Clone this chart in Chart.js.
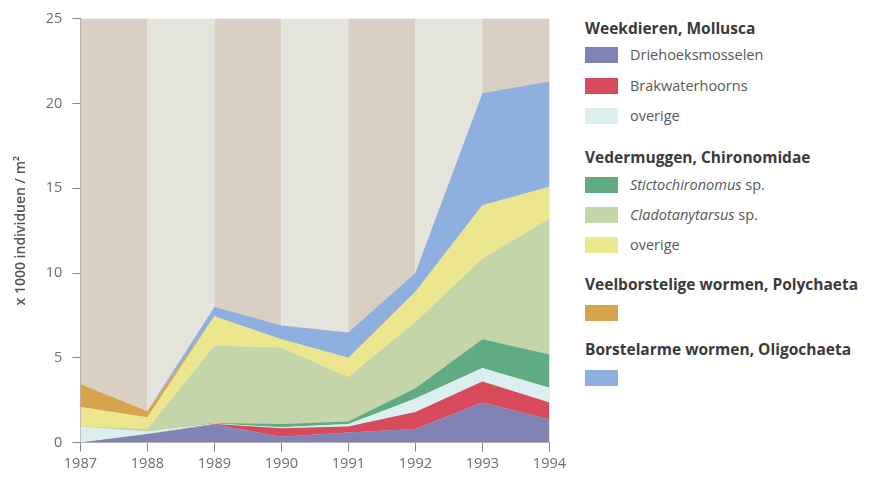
<!DOCTYPE html>
<html>
<head>
<meta charset="utf-8">
<script src="https://cdn.jsdelivr.net/npm/chart.js@4.4.0/dist/chart.umd.min.js"></script>
<style>
body{margin:0;background:#fff;font-family:"Open Sans",sans-serif;}
#wrap{position:relative;width:886px;height:477px;overflow:hidden;}
#box{position:absolute;left:0;top:0;width:570px;height:477px;}
#legend{position:absolute;left:585px;top:0;width:300px;height:477px;}
.hd{position:absolute;left:0;white-space:nowrap;font-weight:700;font-size:15.5px;color:#3a3a3a;line-height:18px;}
.sw{position:absolute;left:0;width:33px;height:16px;}
.lb{position:absolute;left:45px;white-space:nowrap;font-size:14.5px;color:#585858;line-height:18px;}
</style>
</head>
<body>
<div id="wrap">
  <div id="box"><canvas id="myChart"></canvas></div>
  <div id="legend"></div>
</div>
<script>
// jaren
let years = ['1987','1988','1989','1990','1991','1992','1993','1994'];
// waarden in 1000 individuen per m2 (per groep, gestapeld)
let driehoeksmosselen = [0, 0.5, 1.07, 0.35, 0.6, 0.8, 2.37, 1.36];
let brakwaterhoorns   = [0, 0, 0.03, 0.5, 0.35, 1.0, 1.23, 1.0];
let overigeMollusca   = [0.95, 0.15, 0.02, 0.05, 0.15, 0.8, 0.8, 0.88];
let stictochironomus  = [0, 0, 0.03, 0.2, 0.15, 0.6, 1.7, 1.95];
let cladotanytarsus   = [0, 0.15, 4.55, 4.5, 2.6, 3.9, 4.75, 8.0];
let overigeChiro      = [1.15, 0.7, 1.75, 0.5, 1.15, 1.8, 3.15, 1.9];
let polychaeta        = [1.34, 0.35, 0, 0, 0, 0, 0, 0];
let oligochaeta       = [0, 0, 0.55, 0.8, 1.5, 1.1, 6.6, 6.2];
let yTicks = [0, 5, 10, 15, 20, 25];

let series = [
    {label:'Driehoeksmosselen', data:driehoeksmosselen, color:'#8083b4'},
    {label:'Brakwaterhoorns', data:brakwaterhoorns, color:'#d64a5b'},
    {label:'overige', data:overigeMollusca, color:'#dbeef0'},
    {label:'Stictochironomus sp.', data:stictochironomus, color:'#5fac83'},
    {label:'Cladotanytarsus sp.', data:cladotanytarsus, color:'#c4d5aa'},
    {label:'overige', data:overigeChiro, color:'#ece68e'},
    {label:'Polychaeta', data:polychaeta, color:'#d7a44b'},
    {label:'Oligochaeta', data:oligochaeta, color:'#8db0de'}
];

// legenda: kop + items (index in series)
let legendRows = [
    {type:'hd', text:'Weekdieren, Mollusca', y:19},
    {type:'it', s:0, y:47},
    {type:'it', s:1, y:78},
    {type:'it', s:2, y:108},
    {type:'hd', text:'Vedermuggen, Chironomidae', y:148},
    {type:'it', s:3, y:177, italic:'Stictochironomus', rest:' sp.'},
    {type:'it', s:4, y:207, italic:'Cladotanytarsus', rest:' sp.'},
    {type:'it', s:5, y:237},
    {type:'hd', text:'Veelborstelige wormen, Polychaeta', y:275},
    {type:'sw', s:6, y:305},
    {type:'hd', text:'Borstelarme wormen, Oligochaeta', y:340},
    {type:'sw', s:7, y:370}
];

let leg = document.getElementById('legend');
legendRows.forEach(r => {
    if(r.type == 'hd'){
        let d = document.createElement('div');
        d.className = 'hd';
        d.style.top = r.y + 'px';
        d.textContent = r.text;
        leg.append(d);
    } else {
        let sw = document.createElement('div');
        sw.className = 'sw';
        sw.style.top = r.y + 'px';
        sw.style.background = series[r.s].color;
        leg.append(sw);
        if(r.type == 'it'){
            let lb = document.createElement('div');
            lb.className = 'lb';
            lb.style.top = (r.y - 1) + 'px';
            if(r.italic){
                let em = document.createElement('i');
                em.textContent = r.italic;
                lb.append(em, r.rest);
            } else {
                lb.textContent = series[r.s].label;
            }
            leg.append(lb);
        }
    }
});

// achtergrondbanden per jaar
let bandPlugin = {
    id:'bands',
    beforeDatasetsDraw(chart){
        let ctx = chart.ctx, x = chart.scales.x, a = chart.chartArea;
        ctx.save();
        for(let i=0;i<years.length-1;i++){
            let x1 = x.getPixelForValue(i), x2 = x.getPixelForValue(i+1);
            ctx.fillStyle = (i % 2 == 0) ? '#d9d0c3' : '#e4e3dc';
            ctx.fillRect(x1, a.top, x2 - x1, a.bottom - a.top);
        }
        ctx.restore();
    }
};

let ctx = document.getElementById('myChart').getContext('2d');
let chart = new Chart(ctx, {
    type:'line',
    data:{
        labels:years,
        datasets:series.map((s, i) => ({
            label:s.label,
            data:s.data,
            backgroundColor:s.color,
            borderColor:s.color,
            borderWidth:0,
            pointRadius:0,
            tension:0,
            fill: i == 0 ? 'origin' : '-1'
        }))
    },
    options:{
        responsive:true,
        maintainAspectRatio:false,
        animation:false,
        layout:{padding:{top:18, right:0, left:13, bottom:0}},
        plugins:{legend:{display:false}, tooltip:{enabled:false}},
        scales:{
            x:{
                grid:{display:true, drawOnChartArea:false, drawTicks:true, tickLength:9, color:'#8a8a8a'},
                border:{display:true, color:'#8a8a8a', width:1},
                ticks:{color:'#6e6e6e', font:{family:'Open Sans', size:14.5}, padding:4, maxRotation:0}
            },
            y:{
                stacked:true,
                min:0, max:25,
                afterBuildTicks(axis){ axis.ticks = yTicks.map(v => ({value:v})); },
                grid:{display:true, drawOnChartArea:false, drawTicks:true, tickLength:8, color:'#8a8a8a'},
                border:{display:true, color:'#8a8a8a', width:1},
                ticks:{color:'#6e6e6e', font:{family:'Open Sans', size:14.5}, padding:10},
                title:{display:true, text:'x 1000 individuen / m²', color:'#555', font:{family:'Open Sans', size:14, weight:'600'}, padding:{top:0, bottom:6}}
            }
        }
    },
    plugins:[bandPlugin]
});
</script>
</body>
</html>
